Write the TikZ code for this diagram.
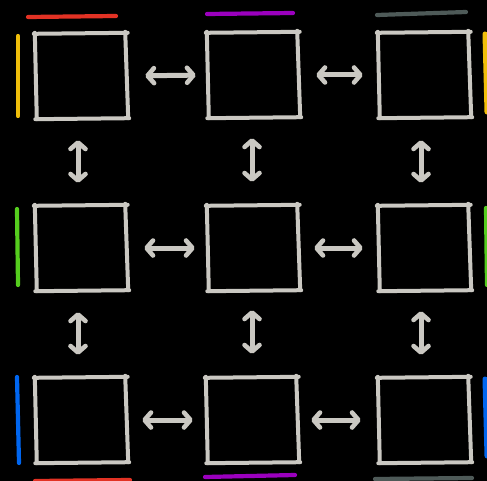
\documentclass[tikz,border=0pt]{standalone}
\usetikzlibrary{arrows.meta}
\definecolor{boxgray}{RGB}{202,200,194}
\definecolor{cred}{RGB}{226,50,36}
\definecolor{cpurple}{RGB}{155,0,190}
\definecolor{cdgray}{RGB}{78,90,88}
\definecolor{cyellow}{RGB}{240,190,10}
\definecolor{cgreen}{RGB}{85,205,30}
\definecolor{cblue}{RGB}{0,102,240}
\tikzset{
  cell/.style={draw=none,minimum width=90pt,minimum height=86pt,inner sep=0pt},
  boxline/.style={draw=boxgray,line width=4pt,line cap=round,line join=round},
  link/.style={draw=boxgray,line width=5pt,line cap=round,
    {Straight Barb[length=6.5pt,width=15pt,line width=4.6pt,round]}-{Straight Barb[length=6.5pt,width=15pt,line width=4.6pt,round]}},
  colstroke/.style={line width=4.2pt,line cap=round},
}
\newcommand{\wob}[1]{%
  \draw[boxline] ([shift={(-2,1)}]#1.north west) -- ([shift={(1.5,0)}]#1.north east);
  \draw[boxline] ([shift={(-1,-1)}]#1.north east) -- ([shift={(2,-1)}]#1.south east);
  \draw[boxline] ([shift={(3,-1)}]#1.south east) -- ([shift={(-0.5,0)}]#1.south west);
  \draw[boxline] ([shift={(1,0)}]#1.south west) -- ([shift={(-1,0)}]#1.north west);}
\begin{document}
\begin{tikzpicture}[x=1pt,y=-1pt]
\fill[black] (0,0) rectangle (487,481);
\useasboundingbox (0,0) rectangle (487,481);
% cells
\node[cell] (b11) at (81,76) {};
\node[cell] (b12) at (253,75) {};
\node[cell] (b13) at (424,75) {};
\node[cell] (b21) at (81,248) {};
\node[cell] (b22) at (253,248) {};
\node[cell] (b23) at (424,248) {};
\node[cell] (b31) at (81,420) {};
\node[cell] (b32) at (252,420) {};
\node[cell] (b33) at (424,420) {};
\foreach \n in {b11,b12,b13,b21,b22,b23,b31,b32,b33}{\wob{\n}}
% horizontal links
\draw[link,shorten <=19pt,shorten >=12pt] (b11.east) -- (b12.west);
\draw[link,shorten <=18pt,shorten >=16pt] (b12.east) -- (b13.west);
\draw[link,shorten <=18pt,shorten >=13pt] (b21.east) -- (b22.west);
\draw[link,shorten <=16pt,shorten >=16pt] (b22.east) -- (b23.west);
\draw[link,shorten <=16pt,shorten >=14pt] (b31.east) -- (b32.west);
\draw[link,shorten <=14pt,shorten >=18pt] (b32.east) -- (b33.west);
% vertical links
\draw[link,shorten <=21pt,shorten >=22pt] ([xshift=-3pt]b11.south) -- ([xshift=-3pt]b21.north);
\draw[link,shorten <=20pt,shorten >=23pt] ([xshift=-1pt]b12.south) -- ([xshift=-1pt]b22.north);
\draw[link,shorten <=22pt,shorten >=22pt] ([xshift=-3pt]b13.south) -- ([xshift=-3pt]b23.north);
\draw[link,shorten <=21pt,shorten >=22pt] ([xshift=-3pt]b21.south) -- ([xshift=-3pt]b31.north);
\draw[link,shorten <=19pt,shorten >=23pt] ([xshift=-1pt]b22.south) -- (b32.north);
\draw[link,shorten <=20pt,shorten >=22pt] ([xshift=-3pt]b23.south) -- ([xshift=-3pt]b33.north);
% coloured strokes
\coordinate (t1a) at (28,17); \coordinate (t1b) at (116,16);
\coordinate (t2a) at (207,14); \coordinate (t2b) at (293,13);
\coordinate (t3a) at (377,15); \coordinate (t3b) at (466,12);
\draw[colstroke,cred] (t1a) -- (t1b);
\draw[colstroke,cpurple] (t2a) -- (t2b);
\draw[colstroke,cdgray] (t3a) -- (t3b);
\coordinate (l1a) at (18,36); \coordinate (l1b) at (18,116);
\coordinate (l2a) at (17,209); \coordinate (l2b) at (18,285);
\coordinate (l3a) at (17,377); \coordinate (l3b) at (19,463);
\draw[colstroke,cyellow] (l1a) -- (l1b);
\draw[colstroke,cgreen] (l2a) -- (l2b);
\draw[colstroke,cblue] (l3a) -- (l3b);
\coordinate (r1a) at (485,34); \coordinate (r1b) at (487,112);
\coordinate (r2a) at (486,208); \coordinate (r2b) at (487,285);
\coordinate (r3a) at (485,379); \coordinate (r3b) at (487,456);
\draw[colstroke,cyellow,line width=5pt] (r1a) -- (r1b);
\draw[colstroke,cgreen] (r2a) -- (r2b);
\draw[colstroke,cblue,line width=5pt] (r3a) -- (r3b);
\coordinate (u1a) at (35,481); \coordinate (u1b) at (130,480);
\coordinate (u2a) at (205,477); \coordinate (u2b) at (295,475);
\coordinate (u3a) at (375,479); \coordinate (u3b) at (472,478);
\draw[colstroke,cred] (u1a) -- (u1b);
\draw[colstroke,cpurple] (u2a) -- (u2b);
\draw[colstroke,cdgray] (u3a) -- (u3b);
\end{tikzpicture}
\end{document}
